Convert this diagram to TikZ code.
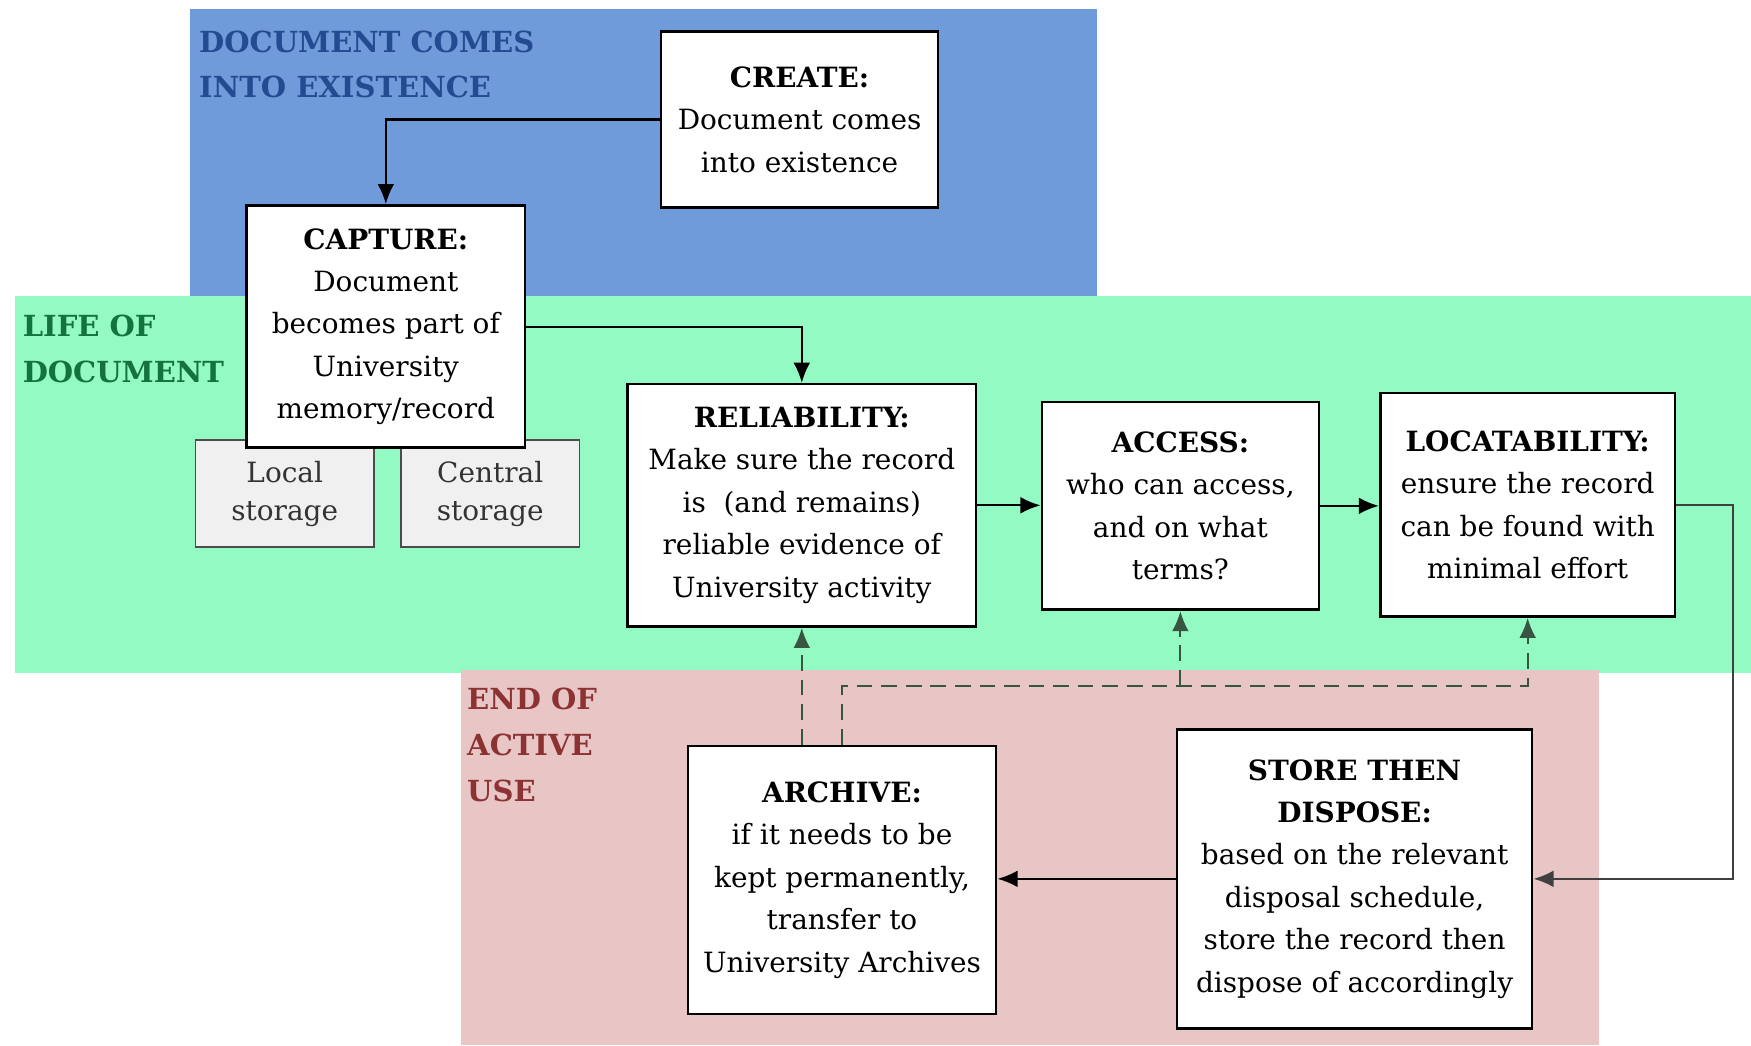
\documentclass[tikz,border=0pt]{standalone}
\usepackage{fontspec}
\setmainfont{DejaVu Serif}
\usetikzlibrary{arrows.meta}
\definecolor{a}{RGB}{112, 155, 218}
\definecolor{b}{RGB}{148, 250, 196}
\definecolor{c}{RGB}{232, 198, 198}
\definecolor{d}{RGB}{35, 75, 145}
\definecolor{e}{RGB}{20, 115, 60}
\definecolor{f}{RGB}{140, 50, 50}
\definecolor{g}{RGB}{55, 85, 65}
\begin{document}
\begin{tikzpicture}[x=0.5pt,y=-0.5pt,
	boite/.style={draw=black,line width=1.2pt,fill=white,align=center,inner sep=0pt,
		font=\fontsize{12.5}{19}\selectfont},
	stock/.style={draw=black!70,line width=0.8pt,fill=gray!12,align=center,inner sep=0pt,
		text=black!80,minimum width=80pt,minimum height=48pt,font=\fontsize{12.5}{17}\selectfont},
	zone/.style={anchor=north west,align=left,inner sep=0pt,font=\bfseries\fontsize{13}{20.5}\selectfont},
	fleche/.style={line width=1pt,-{Latex[length=9pt,width=7.5pt]}},
	tiret/.style={line width=1pt,draw=g,dash pattern=on 7pt off 4pt,-{Latex[length=9pt,width=7.5pt]}}]
	\useasboundingbox (0,0) rectangle (1568,936);
	% les trois bandes
	\fill[a] (170,8) rectangle (982,265);
	\fill[b] (13,265) rectangle (1568,603);
	\fill[c] (413,600) rectangle (1432,936);
	\node[zone,text=d] (t1) at (178,27) {DOCUMENT COMES\\INTO EXISTENCE};
	\node[zone,text=e] (t2) at (20,282) {LIFE OF\\DOCUMENT};
	\node[zone,text=f] (t3) at (418,616) {END OF\\ACTIVE\\USE};
	% les boites
	\node[stock] (local) at (255,442) {Local\\storage};
	\node[stock] (central) at (439,442) {Central\\storage};
	\node[boite,minimum width=124pt,minimum height=79pt] (create) at (716,107)
		{\textbf{CREATE:}\\Document comes\\into existence};
	\node[boite,minimum width=124.5pt,minimum height=108.5pt] (capture) at (345.5,292.5)
		{\textbf{CAPTURE:}\\Document\\becomes part of\\University\\memory/record};
	\node[boite,minimum width=156pt,minimum height=108.5pt] (rel) at (718,452.5)
		{\textbf{RELIABILITY:}\\Make sure the record\\is\ \ (and remains)\\reliable evidence of\\University activity};
	\node[boite,minimum width=124pt,minimum height=93pt] (access) at (1057,453)
		{\textbf{ACCESS:}\\who can access,\\and on what\\terms?};
	\node[boite,minimum width=132pt,minimum height=100pt] (locat) at (1368,452)
		{\textbf{LOCATABILITY:}\\ensure the record\\can be found with\\minimal effort};
	\node[boite,minimum width=138pt,minimum height=120pt] (archive) at (754,788)
		{\textbf{ARCHIVE:}\\if it needs to be\\kept permanently,\\transfer to\\University Archives};
	\node[boite,minimum width=159pt,minimum height=134pt] (store) at (1213,787)
		{\textbf{STORE THEN}\\\textbf{DISPOSE:}\\based on the relevant\\disposal schedule,\\store the record then\\dispose of accordingly};
	% les fleches
	\draw[fleche] (create.west) -| (capture.north);
	\draw[fleche] (capture.east) -| (rel.north);
	\draw[fleche] (rel.east) -- (rel.east -| access.west);
	\draw[fleche] (access.east) -- (access.east -| locat.west);
	\draw[fleche,draw=black!75] (locat.east) -- ++(51,0) |- (store.east);
	\draw[fleche] (store.west) -- (store.west -| archive.east);
	\coordinate (palier) at (0,614);
	\draw[tiret] (archive.north -| rel.south) -- (rel.south);
	\draw[tiret] (archive.north) -- (archive.north |- palier) -| (locat.south);
	\draw[tiret] (access.south |- palier) -- (access.south);
\end{tikzpicture}
\end{document}
